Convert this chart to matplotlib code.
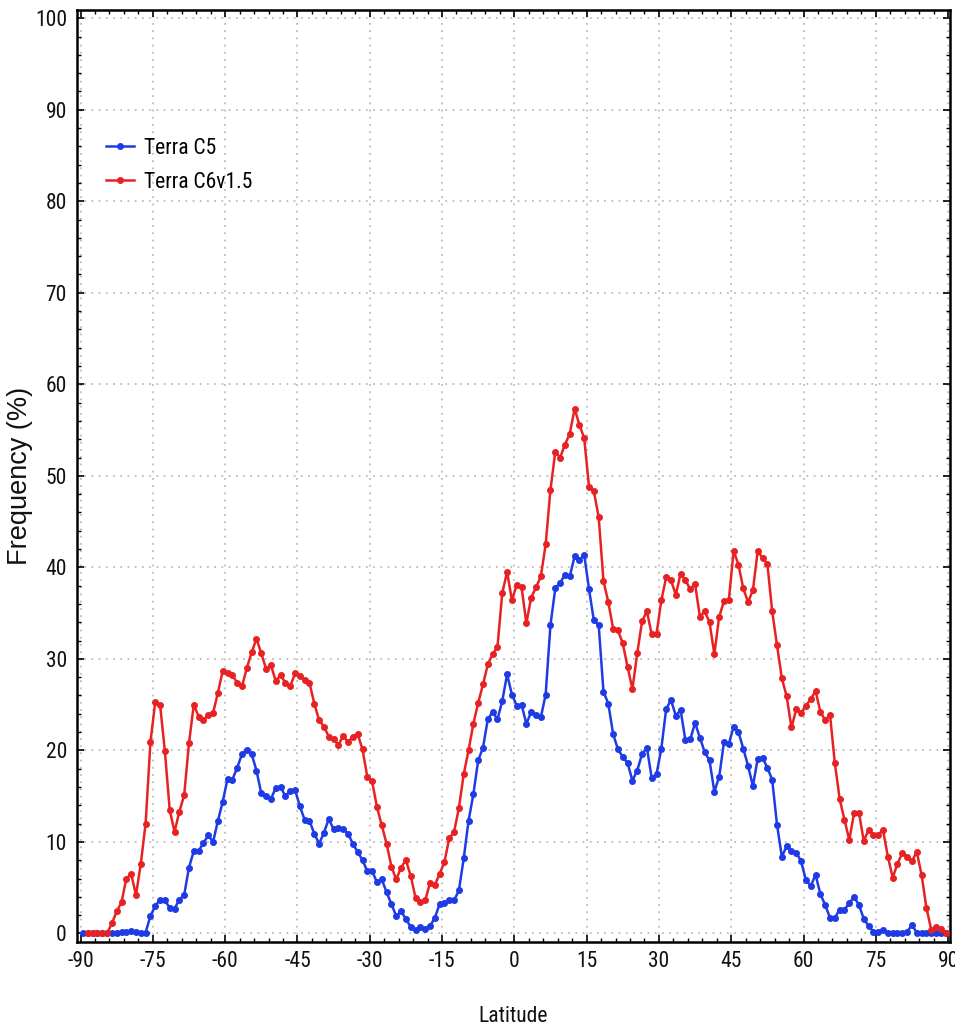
import numpy as np
import matplotlib
matplotlib.use("Agg")
import matplotlib.pyplot as plt
from matplotlib.ticker import MultipleLocator

plt.rcParams["axes.unicode_minus"] = False

# Latitude bin centres (1-degree bins)
latitude = np.arange(-89.5, 90.0, 1.0)

# Frequency (%) per latitude bin
terra_c5 = [
    0.0, 0.0, 0.0, 0.0, 0.0, 0.1, 0.1, 0.1, 0.2, 0.2,
    0.3, 0.2, 0.1, 0.1, 1.9, 3.0, 3.7, 3.6, 2.8, 2.7,
    3.7, 4.2, 7.2, 9.0, 9.0, 9.9, 10.7, 10.0, 12.3, 14.4,
    16.9, 16.8, 18.1, 19.6, 20.0, 19.6, 17.8, 15.3, 15.0, 14.7,
    15.9, 16.0, 15.0, 15.6, 15.7, 13.9, 12.4, 12.3, 10.9, 9.8,
    11.0, 12.5, 11.4, 11.5, 11.4, 10.9, 9.8, 8.9, 8.0, 6.8,
    6.8, 5.6, 5.9, 4.5, 3.2, 1.9, 2.4, 1.6, 0.7, 0.4,
    0.7, 0.5, 0.8, 1.7, 3.2, 3.3, 3.6, 3.6, 4.7, 8.2,
    12.3, 15.2, 18.9, 20.3, 23.4, 24.2, 23.4, 25.4, 28.3, 26.1,
    24.9, 25.0, 22.9, 24.2, 23.9, 23.6, 26.1, 33.7, 37.7, 38.3,
    39.2, 39.0, 41.2, 40.8, 41.4, 37.6, 34.2, 33.7, 26.4, 25.1,
    21.8, 20.1, 19.3, 18.6, 16.7, 17.8, 19.6, 20.3, 17.0, 17.4,
    20.2, 24.5, 25.5, 23.8, 24.4, 21.1, 21.2, 23.0, 21.4, 19.8,
    18.9, 15.5, 17.1, 20.9, 20.7, 22.6, 22.0, 20.2, 18.3, 16.1,
    19.1, 19.2, 18.1, 16.8, 11.9, 8.4, 9.5, 9.0, 8.8, 7.9,
    5.8, 5.2, 6.4, 4.3, 3.1, 1.7, 1.7, 2.6, 2.6, 3.3,
    4.0, 3.1, 1.6, 0.8, 0.2, 0.2, 0.4, 0.1, 0.0, 0.0,
    0.0, 0.2, 0.9, 0.1, 0.0, 0.0, 0.0, 0.0, 0.0, 0.0,
]

terra_c6v15 = [
    np.nan, 0.0, 0.0, 0.0, 0.0, 0.0, 1.1, 2.4, 3.4, 6.0,
    6.5, 4.2, 7.6, 12.0, 20.9, 25.3, 25.0, 19.9, 13.5, 11.1,
    13.3, 15.1, 20.8, 25.0, 23.7, 23.3, 23.9, 24.1, 26.3, 28.7,
    28.5, 28.2, 27.4, 27.0, 29.0, 30.7, 32.2, 30.6, 28.9, 29.3,
    27.6, 28.2, 27.4, 27.0, 28.4, 28.1, 27.7, 27.4, 25.1, 23.3,
    22.6, 21.5, 21.2, 20.6, 21.6, 20.9, 21.5, 21.8, 20.1, 17.1,
    16.6, 13.8, 11.8, 9.8, 7.3, 5.9, 7.2, 8.0, 6.3, 3.9,
    3.4, 3.6, 5.5, 5.3, 6.5, 7.8, 10.4, 11.1, 13.7, 17.4,
    20.0, 22.9, 25.2, 27.2, 29.4, 30.5, 31.3, 37.2, 39.5, 36.4,
    38.1, 37.8, 33.9, 36.7, 37.8, 39.0, 42.5, 48.5, 52.6, 52.0,
    53.4, 54.6, 57.3, 55.6, 54.1, 48.8, 48.3, 45.5, 38.5, 36.2,
    33.3, 33.1, 31.7, 29.1, 26.7, 30.6, 34.1, 35.2, 32.7, 32.7,
    36.4, 38.9, 38.6, 37.0, 39.3, 38.6, 37.6, 38.2, 34.6, 35.2,
    34.0, 30.5, 34.6, 36.3, 36.4, 41.8, 40.3, 37.7, 36.2, 37.5,
    41.8, 41.0, 40.4, 35.2, 31.5, 27.9, 25.9, 22.5, 24.5, 24.1,
    24.9, 25.6, 26.5, 24.2, 23.3, 23.9, 18.6, 14.7, 12.4, 10.2,
    13.2, 13.2, 10.1, 11.3, 10.8, 10.8, 11.3, 8.4, 6.1, 7.6,
    8.8, 8.4, 7.9, 8.9, 6.4, 2.8, 0.4, 0.7, 0.5, 0.0,
]

series_labels = ["Terra C5", "Terra C6v1.5"]
series_colors = ["#1f3be6", "#e82222"]

x_ticks = np.arange(-90, 91, 15)
y_ticks = np.arange(0, 101, 10)

narrow = ["Roboto Condensed", "Liberation Sans Narrow", "Liberation Sans", "DejaVu Sans"]
regular = ["Liberation Sans", "DejaVu Sans"]

fig = plt.figure(figsize=(9.55, 10.27), dpi=100)
ax = fig.add_axes([0.0803, 0.0831, 0.9145, 0.9072])

for values, label, color in zip([terra_c5, terra_c6v15], series_labels, series_colors):
    ax.plot(latitude, values, color=color, lw=1.8, marker="o", ms=4.0,
            mec=color, mfc=color, label=label, zorder=3)

ax.set_xlim(-90.8, 90.4)
ax.set_ylim(-0.9, 100.9)
ax.set_xticks(x_ticks)
ax.set_yticks(y_ticks)
ax.xaxis.set_minor_locator(MultipleLocator(3))
ax.yaxis.set_minor_locator(MultipleLocator(2))

ax.grid(True, which="major", color="#bcbcbc", linestyle=(0, (1, 3)), lw=1.3)
ax.set_axisbelow(True)

for side in ax.spines.values():
    side.set_linewidth(1.8)
    side.set_color("black")

ax.tick_params(which="both", direction="in", top=True, right=True, color="black")
ax.tick_params(which="major", length=5, width=1.2, pad=7)
ax.tick_params(which="minor", length=3, width=1.0)

for lbl in ax.get_xticklabels() + ax.get_yticklabels():
    lbl.set_fontfamily(narrow)
    lbl.set_fontsize(15.5)
    lbl.set_color("#111111")

ax.set_xlabel("Latitude", fontsize=15.5, family=narrow, color="#111111")
ax.xaxis.set_label_coords(0.50, -0.069)
ax.set_ylabel("Frequency (%)", fontsize=19.5, family=regular, color="#111111")
ax.yaxis.set_label_coords(-0.050, 0.50)

leg = ax.legend(loc="upper left", bbox_to_anchor=(0.034, 0.863), frameon=False,
                borderaxespad=0, borderpad=0, handlelength=1.3, handletextpad=0.45,
                labelspacing=0.6, numpoints=1, prop={"family": narrow, "size": 15.5})
for h in leg.get_lines():
    h.set_markersize(4.0)

fig.savefig("out.png", dpi=100)
